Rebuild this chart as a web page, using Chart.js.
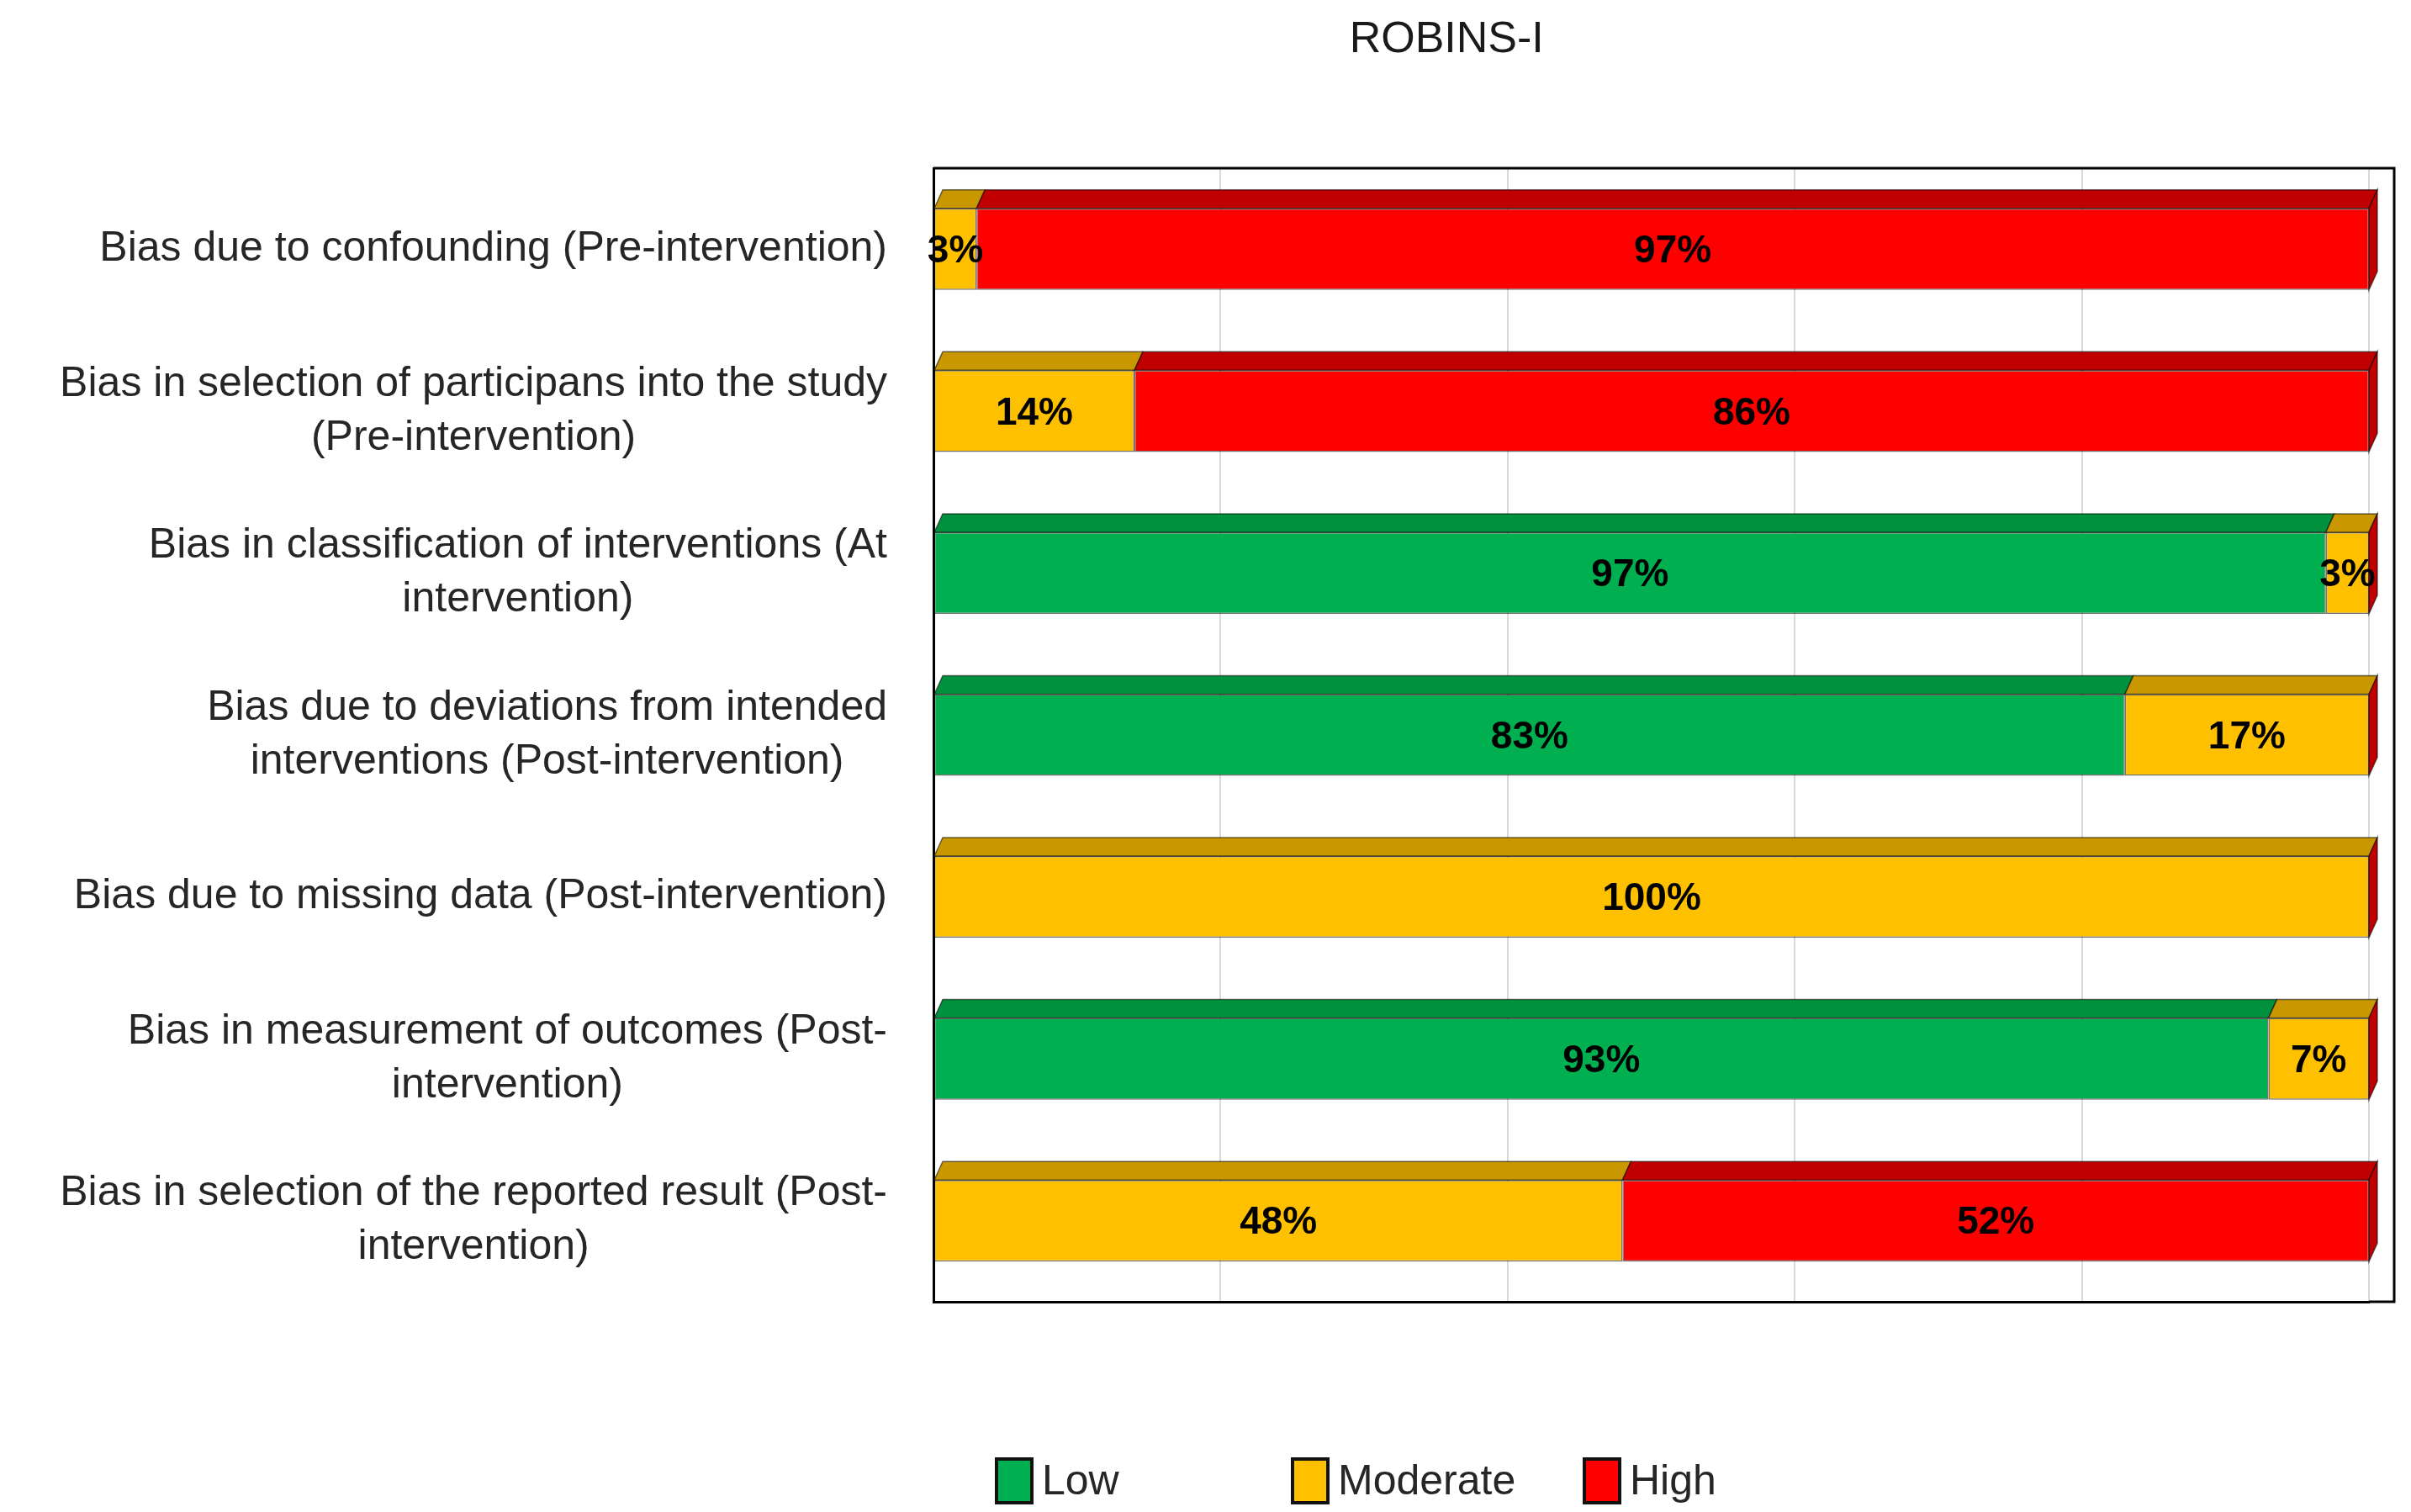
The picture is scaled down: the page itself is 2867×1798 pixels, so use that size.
<!DOCTYPE html>
<html>
<head>
<meta charset="utf-8">
<title>ROBINS-I</title>
<script src="https://cdn.jsdelivr.net/npm/chart.js@4.4.1/dist/chart.umd.min.js"></script>
<style>
  html, body { margin: 0; padding: 0; background: #fff; }
  #wrap { width: 2867px; height: 1798px; position: relative; }
</style>
</head>
<body>
<div id="wrap"><canvas id="robins"></canvas></div>
<script>
// domains, top to bottom
const domains = [
  ['Bias due to confounding (Pre-intervention)'],
  ['Bias in selection of participans into the study', '(Pre-intervention)'],
  ['Bias in classification of interventions (At', 'intervention)'],
  ['Bias due to deviations from intended', 'interventions (Post-intervention)'],
  ['Bias due to missing data (Post-intervention)'],
  ['Bias in measurement of outcomes (Post-', 'intervention)'],
  ['Bias in selection of the reported result (Post-', 'intervention)'],
];
const low = [0, 0, 97, 83, 0, 93, 0];
const moderate = [3, 14, 3, 17, 100, 7, 48];
const high = [97, 86, 0, 0, 0, 0, 52];
const xTicks = [0, 20, 40, 60, 80, 100];
const seriesNames = ['Low', 'Moderate', 'High'];

const fill = ['#00b050', '#ffc000', '#ff0000'];
const dark = ['#00913f', '#c99700', '#c00000'];
const FONT = "'Liberation Sans', Arial, sans-serif";

const decor = {
  id: 'decor',
  beforeDatasetsDraw(chart) {
    // back wall top, right edge, floor extension
    const { ctx, chartArea: a } = chart;
    ctx.save();
    ctx.strokeStyle = '#000';
    ctx.lineWidth = 3;
    ctx.beginPath();
    ctx.moveTo(a.left, a.top);
    ctx.lineTo(a.right + 30, a.top);
    ctx.lineTo(a.right + 30, a.bottom);
    ctx.lineTo(a.right, a.bottom);
    ctx.stroke();
    ctx.restore();
  },
  afterDatasetsDraw(chart) {
    const { ctx } = chart;
    const dx = 10, dy = -22;
    ctx.save();
    // top faces
    chart.data.datasets.forEach((ds, di) => {
      chart.getDatasetMeta(di).data.forEach((bar, i) => {
        if (!ds.data[i]) return;
        const p = bar.getProps(['x', 'y', 'base', 'height'], true);
        const l = Math.min(p.base, p.x), r = Math.max(p.base, p.x);
        const t = p.y - p.height / 2;
        ctx.fillStyle = dark[di];
        ctx.strokeStyle = 'rgba(0,0,0,0.55)';
        ctx.lineWidth = 1.5;
        ctx.beginPath();
        ctx.moveTo(l, t);
        ctx.lineTo(r, t);
        ctx.lineTo(r + dx, t + dy);
        ctx.lineTo(l + dx, t + dy);
        ctx.closePath();
        ctx.fill();
        ctx.stroke();
      });
    });
    // end faces
    const y = chart.scales.y, x = chart.scales.x;
    const endX = x.getPixelForValue(100);
    const h = chart.getDatasetMeta(0).data[0].height;
    domains.forEach((d, i) => {
      const cy = y.getPixelForValue(i);
      const t = cy - h / 2, b = cy + h / 2;
      ctx.fillStyle = dark[2];
      ctx.beginPath();
      ctx.moveTo(endX, t);
      ctx.lineTo(endX + dx, t + dy);
      ctx.lineTo(endX + dx, b + dy);
      ctx.lineTo(endX, b);
      ctx.closePath();
      ctx.fill();
      ctx.stroke();
    });
    // value labels
    ctx.fillStyle = '#000';
    ctx.font = 'bold 46px ' + FONT;
    ctx.textAlign = 'center';
    ctx.textBaseline = 'middle';
    chart.data.datasets.forEach((ds, di) => {
      chart.getDatasetMeta(di).data.forEach((bar, i) => {
        const v = ds.data[i];
        if (!v) return;
        const p = bar.getProps(['x', 'y', 'base'], true);
        ctx.fillText(v + '%', (p.x + p.base) / 2, p.y + 3);
      });
    });
    ctx.restore();
  },
  afterDraw(chart) {
    const { ctx, chartArea: a } = chart;
    const y = chart.scales.y;
    ctx.save();
    // title
    ctx.fillStyle = '#1a1a1a';
    ctx.font = '52px ' + FONT;
    ctx.textAlign = 'center';
    ctx.textBaseline = 'middle';
    ctx.fillText('ROBINS-I', chart.width * 0.6, 48);
    // domain labels: block right-aligned to axis, lines centred
    ctx.font = '50px ' + FONT;
    ctx.fillStyle = '#262626';
    const right = a.left - 55, lh = 64;
    domains.forEach((lines, i) => {
      const w = Math.max(...lines.map(s => ctx.measureText(s).width));
      const cx = right - w / 2;
      const cy = y.getPixelForValue(i) - (lines.length - 1) * lh / 2;
      lines.forEach((s, k) => ctx.fillText(s, cx, cy + k * lh));
    });
    // legend
    const legendX = [1185, 1537, 1884], ly = 1761;
    ctx.textAlign = 'left';
    seriesNames.forEach((name, k) => {
      ctx.fillStyle = fill[k];
      ctx.fillRect(legendX[k], ly - 26, 42, 52);
      ctx.strokeStyle = '#111';
      ctx.lineWidth = 4;
      ctx.strokeRect(legendX[k], ly - 26, 42, 52);
      ctx.fillStyle = '#262626';
      ctx.fillText(name, legendX[k] + 54, ly + 2);
    });
    ctx.restore();
  }
};

new Chart(document.getElementById('robins').getContext('2d'), {
  type: 'bar',
  data: {
    labels: domains,
    datasets: seriesNames.map((name, k) => ({
      label: name,
      data: [low, moderate, high][k],
      backgroundColor: fill[k],
      borderColor: 'rgba(0,0,0,0.55)',
      borderWidth: 1.5,
      borderSkipped: false,
      categoryPercentage: 0.9,
      barPercentage: 0.56,
    })),
  },
  options: {
    indexAxis: 'y',
    responsive: true,
    maintainAspectRatio: false,
    devicePixelRatio: 1,
    animation: false,
    layout: { padding: { left: 1110, right: 50, top: 200, bottom: 250 } },
    plugins: {
      legend: { display: false },
      title: { display: false },
      tooltip: { enabled: false },
    },
    scales: {
      x: {
        stacked: true,
        min: xTicks[0],
        max: xTicks[xTicks.length - 1],
        afterBuildTicks: (s) => { s.ticks = xTicks.map(v => ({ value: v })); },
        ticks: { display: false },
        grid: { color: '#d9d9d9', lineWidth: 2, drawTicks: false },
        border: { color: '#000', width: 3 },
      },
      y: {
        stacked: true,
        ticks: { display: false },
        grid: { display: false, drawTicks: false },
        border: { color: '#000', width: 3 },
      },
    },
  },
  plugins: [decor],
});
</script>
</body>
</html>
